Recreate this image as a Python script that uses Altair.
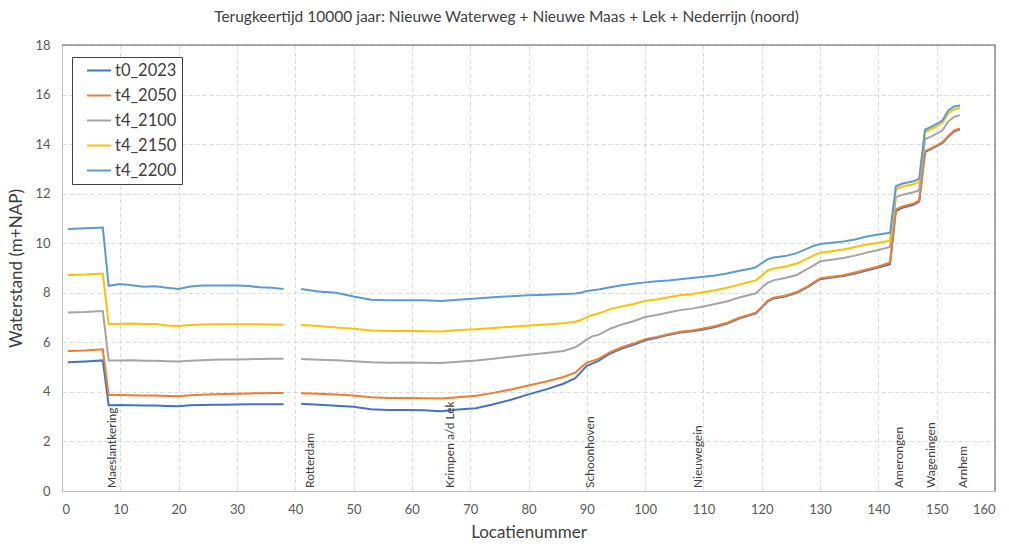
import altair as alt
import pandas as pd

series_names = ["t0_2023", "t4_2050", "t4_2100", "t4_2150", "t4_2200"]
series_colors = ["#4472C4", "#ED7D31", "#A5A5A5", "#FFC000", "#5B9BD5"]

locations = [1, 4, 7, 8, 10, 12, 14, 16, 18, 20, 22, 24, 26, 28, 30, 32, 34, 36, 38,
             41, 44, 47, 50, 53, 56, 59, 62, 65, 68, 71, 74, 77, 80, 83, 86, 88, 89, 90,
             91, 92, 94, 96, 98, 100, 102, 104, 106, 108, 110, 112, 114, 116, 118, 119,
             120, 121, 122, 124, 126, 128, 129, 130, 132, 134, 136, 138, 140, 142, 143,
             144, 146, 147, 148, 149, 150, 151, 152, 153, 154]

t0_2023 = [5.20, 5.23, 5.27, 3.46, 3.47, 3.46, 3.45, 3.45, 3.43, 3.42, 3.46, 3.47, 3.48, 3.48, 3.49, 3.50, 3.50, 3.50, 3.50,
           3.52, 3.48, 3.44, 3.40, 3.30, 3.27, 3.27, 3.26, 3.22, 3.29, 3.34, 3.50, 3.68, 3.90, 4.10, 4.33, 4.55, 4.80, 5.05,
           5.15, 5.25, 5.55, 5.75, 5.90, 6.08, 6.18, 6.30, 6.40, 6.45, 6.52, 6.62, 6.75, 6.95, 7.10, 7.17,
           7.40, 7.65, 7.77, 7.85, 8.00, 8.25, 8.40, 8.55, 8.62, 8.68, 8.78, 8.90, 9.02, 9.15, 11.30,
           11.42, 11.55, 11.68, 13.68, 13.80, 13.92, 14.05, 14.30, 14.52, 14.60]

t4_2050 = [5.65, 5.67, 5.72, 3.87, 3.87, 3.86, 3.85, 3.85, 3.83, 3.82, 3.86, 3.88, 3.90, 3.91, 3.92, 3.94, 3.95, 3.96, 3.96,
           3.95, 3.92, 3.89, 3.85, 3.78, 3.75, 3.75, 3.74, 3.73, 3.78, 3.84, 3.96, 4.10, 4.26, 4.42, 4.60, 4.78, 4.98, 5.18,
           5.25, 5.33, 5.60, 5.80, 5.95, 6.13, 6.22, 6.33, 6.43, 6.48, 6.56, 6.66, 6.78, 6.98, 7.13, 7.20,
           7.43, 7.68, 7.80, 7.88, 8.03, 8.28, 8.43, 8.58, 8.65, 8.71, 8.82, 8.94, 9.06, 9.22, 11.36,
           11.47, 11.60, 11.73, 13.72, 13.83, 13.95, 14.08, 14.33, 14.55, 14.63]

t4_2100 = [7.20, 7.22, 7.26, 5.27, 5.27, 5.28, 5.26, 5.26, 5.24, 5.23, 5.26, 5.28, 5.30, 5.31, 5.31, 5.32, 5.33, 5.34, 5.34,
           5.33, 5.30, 5.28, 5.24, 5.20, 5.18, 5.19, 5.18, 5.17, 5.22, 5.27, 5.34, 5.42, 5.50, 5.57, 5.65, 5.80, 5.95, 6.12,
           6.25, 6.30, 6.55, 6.72, 6.85, 7.02, 7.10, 7.20, 7.30, 7.36, 7.45, 7.55, 7.65, 7.80, 7.92, 7.98,
           8.20, 8.40, 8.50, 8.60, 8.72, 8.98, 9.12, 9.27, 9.33, 9.40, 9.50, 9.62, 9.73, 9.85, 11.85,
           11.95, 12.06, 12.14, 14.20, 14.30, 14.42, 14.56, 14.92, 15.10, 15.17]

t4_2150 = [8.72, 8.74, 8.78, 6.73, 6.75, 6.76, 6.74, 6.74, 6.68, 6.66, 6.70, 6.72, 6.73, 6.73, 6.73, 6.73, 6.73, 6.72, 6.71,
           6.70, 6.66, 6.60, 6.55, 6.48, 6.46, 6.47, 6.45, 6.44, 6.50, 6.53, 6.58, 6.63, 6.68, 6.72, 6.77, 6.83, 6.90, 7.02,
           7.10, 7.16, 7.34, 7.45, 7.55, 7.67, 7.73, 7.82, 7.90, 7.95, 8.02, 8.10, 8.20, 8.32, 8.45, 8.50,
           8.70, 8.90, 8.98, 9.05, 9.18, 9.40, 9.52, 9.62, 9.68, 9.75, 9.85, 9.95, 10.02, 10.10, 12.18,
           12.28, 12.38, 12.47, 14.48, 14.60, 14.72, 14.87, 15.25, 15.40, 15.46]

t4_2200 = [10.57, 10.60, 10.63, 8.28, 8.35, 8.30, 8.24, 8.26, 8.20, 8.15, 8.25, 8.29, 8.29, 8.29, 8.29, 8.27, 8.22, 8.20, 8.15,
           8.15, 8.05, 8.00, 7.85, 7.72, 7.70, 7.70, 7.70, 7.67, 7.72, 7.77, 7.82, 7.86, 7.90, 7.92, 7.95, 7.97, 8.00, 8.07,
           8.10, 8.13, 8.22, 8.30, 8.36, 8.42, 8.47, 8.50, 8.55, 8.60, 8.65, 8.70, 8.78, 8.88, 8.97, 9.03,
           9.20, 9.35, 9.42, 9.48, 9.60, 9.80, 9.90, 9.97, 10.02, 10.07, 10.15, 10.27, 10.35, 10.42, 12.30,
           12.40, 12.50, 12.60, 14.58, 14.70, 14.82, 14.96, 15.36, 15.52, 15.56]

place_names = ["Maeslantkering", "Rotterdam", "Krimpen a/d Lek", "Schoonhoven",
               "Nieuwegein", "Amerongen", "Wageningen", "Arnhem"]
place_locations = [8.5, 42.5, 66.5, 90.5, 109, 143.5, 149, 154.5]

title_text = "Terugkeertijd 10000 jaar: Nieuwe Waterweg + Nieuwe Maas + Lek + Nederrijn (noord)"

FONT = "Lato"
W, H = 933, 446

rows = []
for name, vals in zip(series_names, [t0_2023, t4_2050, t4_2100, t4_2150, t4_2200]):
    for loc, v in zip(locations, vals):
        rows.append({"serie": name, "Locatienummer": loc, "Waterstand": v,
                     "segment": "a" if loc <= 38 else "b"})
df = pd.DataFrame(rows)
labels_df = pd.DataFrame({"plaats": place_names, "loc": place_locations})
one = pd.DataFrame({"k": [0]})

x_scale = alt.Scale(domain=[0, 160], nice=False, zero=False)
y_scale = alt.Scale(domain=[0, 18], nice=False)

lines = alt.Chart(df).mark_line(strokeWidth=2).encode(
    x=alt.X("Locatienummer:Q", scale=x_scale, title="Locatienummer",
            axis=alt.Axis(values=list(range(0, 161, 10)), format="d")),
    y=alt.Y("Waterstand:Q", scale=y_scale, title="Waterstand (m+NAP)",
            axis=alt.Axis(values=list(range(0, 19, 2)), format="d")),
    color=alt.Color("serie:N", scale=alt.Scale(domain=series_names, range=series_colors),
                    legend=alt.Legend(title=None, orient="none", legendX=10, legendY=12,
                                      symbolType="M0.2,0H3.4", symbolSize=225,
                                      symbolStrokeWidth=2, labelOffset=21,
                                      labelFontSize=16.5, labelFont=FONT, labelColor="#404040",
                                      rowPadding=8, padding=5,
                                      strokeColor="#404040", fillColor="white")),
    detail="segment:N",
)

place_text = alt.Chart(labels_df).mark_text(
    angle=270, align="left", baseline="middle", dx=3, fontSize=12, font=FONT, color="#404040"
).encode(
    x=alt.X("loc:Q", scale=x_scale),
    y=alt.datum(0, scale=y_scale),
    text="plaats:N",
)

top_border = alt.Chart(one).mark_rule(color="#595959", strokeWidth=1).encode(
    x=alt.value(0), x2=alt.value(W), y=alt.value(0))
right_border = alt.Chart(one).mark_rule(color="#595959", strokeWidth=1).encode(
    x=alt.value(W), y=alt.value(0), y2=alt.value(H))

chart = alt.layer(lines, place_text, top_border, right_border).properties(
    width=W, height=H,
    title=alt.Title(title_text, fontSize=15.5, font=FONT, fontWeight="normal",
                    color="#404040", anchor="middle", dx=-22, offset=14),
    autosize=alt.AutoSizeParams(type="none"),
    padding={"left": 62, "top": 45, "right": 14, "bottom": 53},
).configure_view(stroke=None).configure_axis(
    labelFont=FONT, labelFontSize=13, labelColor="#595959",
    titleFont=FONT, titleFontSize=17, titleFontWeight="normal", titleColor="#404040",
    ticks=False, domainColor="#BFBFBF", domainWidth=1,
    gridColor="#D9D9D9", gridDash=[4, 3], gridWidth=1,
).configure_axisX(labelPadding=12, titlePadding=8).configure_axisY(
    labelPadding=12, titlePadding=9)

chart.save("out.html", embed_options={"renderer": "svg", "actions": False})
